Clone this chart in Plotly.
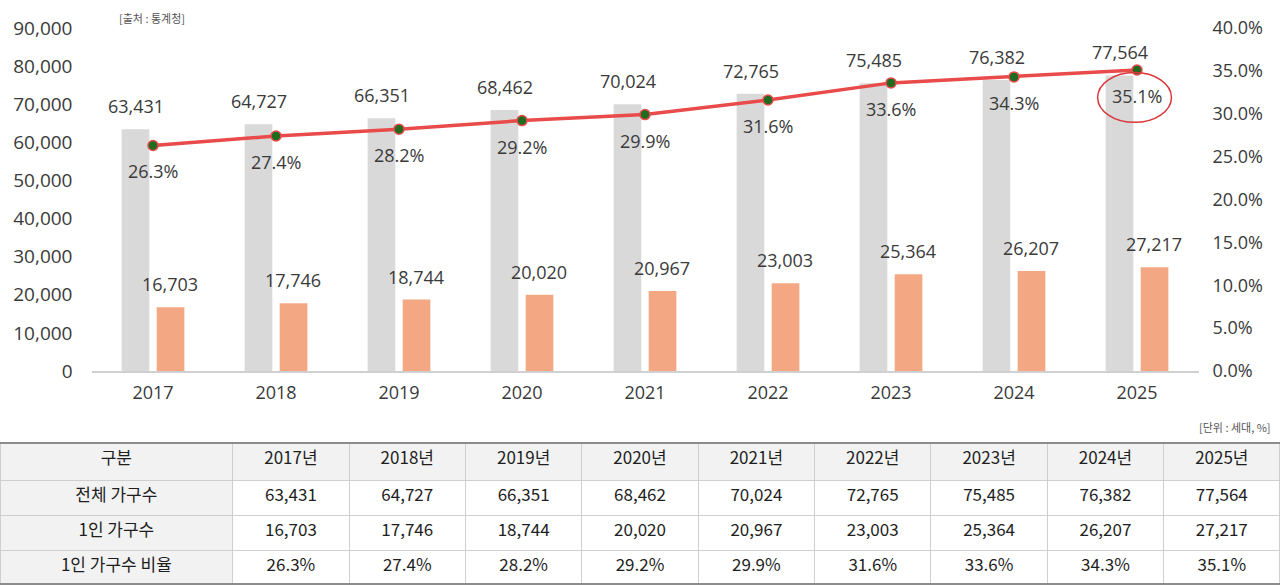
import plotly.graph_objects as go

years = ["2017", "2018", "2019", "2020", "2021", "2022", "2023", "2024", "2025"]
total_households = [63431, 64727, 66351, 68462, 70024, 72765, 75485, 76382, 77564]
single_households = [16703, 17746, 18744, 20020, 20967, 23003, 25364, 26207, 27217]
single_ratio = [26.3, 27.4, 28.2, 29.2, 29.9, 31.6, 33.6, 34.3, 35.1]
row_labels = ["전체 가구수", "1인 가구수", "1인 가구수 비율"]
header_first = "구분"

FONT = "Open Sans"
KFONT = "Noto Sans CJK KR"
TXT = "#3a3a3a"
GRAY = "#D9D9D9"
ORANGE = "#F3A883"
RED = "#E94A4A"
GREEN = "#1F6B1F"

fig = go.Figure()

fig.add_trace(go.Bar(
    x=years, y=total_households, name="전체 가구수",
    marker=dict(color=GRAY, line=dict(width=0)),
    width=0.225, offset=-0.255, hoverinfo="skip",
))
fig.add_trace(go.Bar(
    x=years, y=single_households, name="1인 가구수",
    marker=dict(color=ORANGE, line=dict(width=0)),
    width=0.225, offset=0.03, hoverinfo="skip",
))
fig.add_trace(go.Scatter(
    x=years, y=single_ratio, yaxis="y2", mode="lines+markers",
    line=dict(color=RED, width=3.5),
    marker=dict(color=GREEN, size=10, line=dict(color=RED, width=1.5)),
    hoverinfo="skip",
))

annotations = []
for i, v in enumerate(total_households):
    annotations.append(dict(x=i, y=v, xref="x", yref="y", text=f"{v:,}",
                            showarrow=False, yanchor="bottom", yshift=9, xshift=-17,
                            font=dict(family=FONT, size=18, color=TXT)))
for i, v in enumerate(single_households):
    annotations.append(dict(x=i, y=v, xref="x", yref="y", text=f"{v:,}",
                            showarrow=False, yanchor="bottom", yshift=9, xshift=17,
                            font=dict(family=FONT, size=18, color=TXT)))
for i, v in enumerate(single_ratio):
    annotations.append(dict(x=i, y=v, xref="x", yref="y2", text=f"{v:.1f}%",
                            showarrow=False, yanchor="middle", yshift=-26,
                            font=dict(family=FONT, size=18, color=TXT)))

annotations.append(dict(x=117/1280, y=1-18/585, xref="paper", yref="paper",
                        text="[출처 : 통계청]", showarrow=False, xanchor="left", yanchor="middle",
                        font=dict(family=KFONT, size=11, color="#555555")))
annotations.append(dict(x=1273/1280, y=1-427/585, xref="paper", yref="paper",
                        text="[단위 : 세대, %]", showarrow=False, xanchor="right", yanchor="middle",
                        font=dict(family=KFONT, size=11, color="#555555")))

# table
header_vals = [header_first] + [f"{y}년" for y in years]
cell_vals = [row_labels] + [[f"{t:,}", f"{s:,}", f"{r:.1f}%"]
                            for t, s, r in zip(total_households, single_households, single_ratio)]
fig.add_trace(go.Table(
    domain=dict(x=[0, 1], y=[0, 1-443/585]),
    columnwidth=[2] + [1]*len(years),
    header=dict(values=header_vals, fill_color="#F2F2F2", align="center", height=37,
                line=dict(color="#CFCFCF", width=1),
                font=dict(family=KFONT, size=17, color="#1e1e1e")),
    cells=dict(values=cell_vals, fill_color=["#F2F2F2"] + ["#FFFFFF"]*len(years),
               align="center", height=35,
               line=dict(color="#CFCFCF", width=1),
               font=dict(family=KFONT, size=17, color="#1e1e1e")),
))

shapes = [
    dict(type="circle", xref="x", yref="y2", x0=7.68, x1=8.28, y0=29.0, y1=34.8,
         line=dict(color="#D9373A", width=1.5)),
    dict(type="line", xref="paper", yref="paper", x0=0, x1=1, y0=1-443/585, y1=1-443/585,
         line=dict(color="#8C8C8C", width=2)),
    dict(type="line", xref="paper", yref="paper", x0=0, x1=1, y0=1-584/585, y1=1-584/585,
         line=dict(color="#8C8C8C", width=2)),
]

fig.update_layout(
    width=1280, height=585,
    margin=dict(l=0, r=0, t=0, b=0, autoexpand=False),
    paper_bgcolor="white", plot_bgcolor="white",
    barmode="overlay", showlegend=False,
    font=dict(family=FONT, color=TXT),
    xaxis=dict(domain=[91.5/1280, 1198.5/1280], type="category", range=[-0.5, 8.5],
               showline=True, linecolor="#D0D0D0", linewidth=1.5, automargin=False,
               ticks="", showgrid=False, tickfont=dict(family=FONT, size=18, color=TXT),
               ticklabelstandoff=5),
    yaxis=dict(domain=[1-371/585, 1-28/585], range=[0, 90000], dtick=10000,
               tickformat=",", showgrid=False, zeroline=False, ticks="", automargin=False,
               tickfont=dict(family=FONT, size=19, color=TXT), ticklabelstandoff=18),
    yaxis2=dict(overlaying="y", side="right", range=[0, 40], dtick=5, automargin=False,
                tickformat=".1f", ticksuffix="%", showgrid=False, zeroline=False, ticks="",
                tickfont=dict(family=FONT, size=18, color=TXT), ticklabelstandoff=13),
    annotations=annotations,
    shapes=shapes,
)

fig.write_html("out.html")
